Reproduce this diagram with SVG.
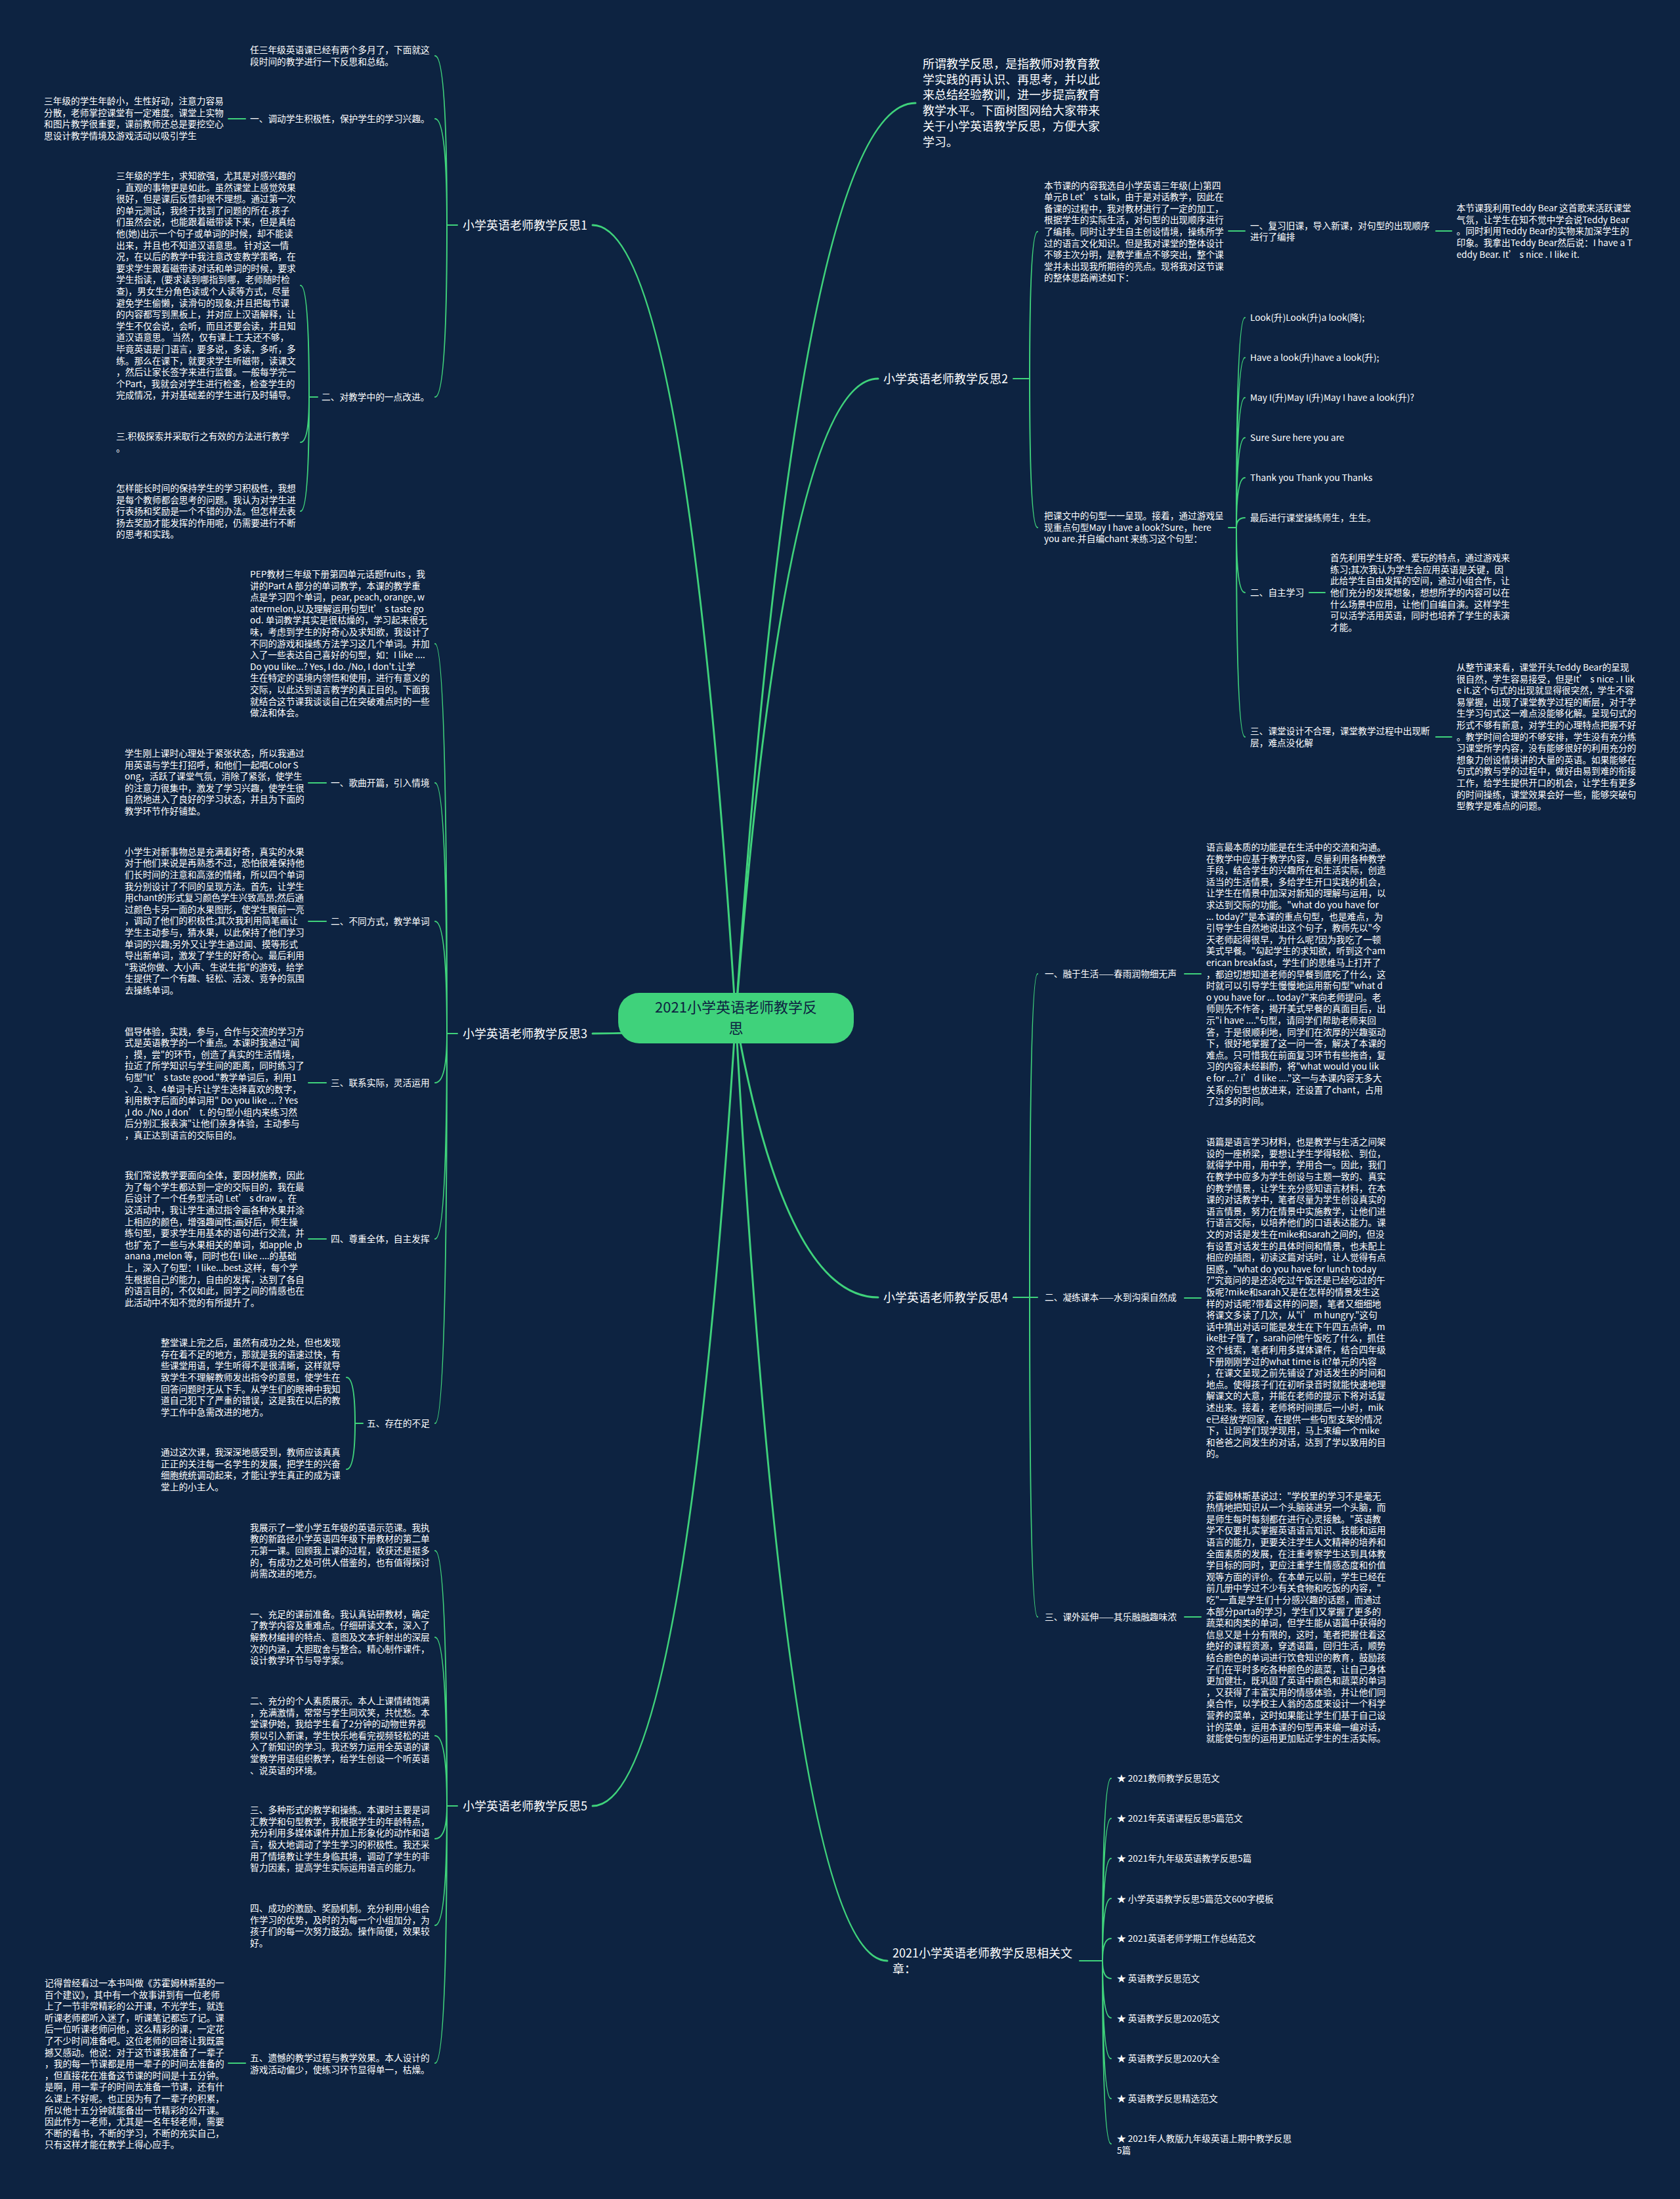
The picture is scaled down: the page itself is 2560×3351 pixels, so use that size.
<svg xmlns="http://www.w3.org/2000/svg" width="2560" height="3351" viewBox="0 0 2560 3351">
<style>
.bg{fill:#0d2341}
.t{font-family:"Noto Sans CJK SC","Noto Sans",sans-serif;font-size:13.7px;fill:#ffffff}
.l1{font-family:"Noto Sans CJK SC","Noto Sans",sans-serif;font-size:18px;fill:#ffffff}
.ct{font-family:"Noto Sans CJK SC","Noto Sans",sans-serif;font-size:22px;fill:#0d2341;text-anchor:middle}
.c{fill:none;stroke:#3fd27b;stroke-width:2;stroke-linecap:round}
.m{fill:none;stroke:#3fd27b;stroke-width:3;stroke-linecap:round}
</style>
<rect class="bg" x="0" y="0" width="2560" height="3351"/>
<g id="connectors">
<path class="m" d="M1121 1551 Q1044.7 343 903 343"/>
<path class="m" d="M1121 1551 Q1044.7 1575 903 1575"/>
<path class="m" d="M1121 1551 Q1044.7 2752 903 2752"/>
<path class="m" d="M1121 1551 Q1217 157 1395 157"/>
<path class="m" d="M1121 1551 Q1197 577 1338 577"/>
<path class="m" d="M1121 1551 Q1197 1977 1338 1977"/>
<path class="m" d="M1121 1551 Q1202 2988 1352 2988"/>
<path class="c" d="M697 343 H681 M681 343 Q681 85 663 85 M681 343 Q681 181 663 181 M681 343 Q681 605 663 605"/>
<path class="c" d="M374 181 H348"/>
<path class="c" d="M484 605 H471 M471 605 Q471 435 458 435 M471 605 Q471 674 458 674 M471 605 Q471 779 458 779"/>
<path class="c" d="M697 1575 H681 M681 1575 Q681 981 663 981 M681 1575 Q681 1193 663 1193 M681 1575 Q681 1404 663 1404 M681 1575 Q681 1650 663 1650 M681 1575 Q681 1888 663 1888 M681 1575 Q681 2169 663 2169"/>
<path class="c" d="M497 1193 H470 M497 1404 H470 M497 1650 H470 M497 1888 H470"/>
<path class="c" d="M553 2169 H541 M541 2169 Q541 2099 528 2099 M541 2169 Q541 2239 528 2239"/>
<path class="c" d="M697 2752 H681 M681 2752 Q681 2363 663 2363 M681 2752 Q681 2495 663 2495 M681 2752 Q681 2645 663 2645 M681 2752 Q681 2802 663 2802 M681 2752 Q681 2934 663 2934 M681 2752 Q681 3144 663 3144"/>
<path class="c" d="M374 3144 H348"/>
<path class="c" d="M1544 577 H1569 M1569 577 Q1569 353 1581 353 M1569 577 Q1569 804 1581 804"/>
<path class="c" d="M1872 352 H1897 M2188 352 H2212"/>
<path class="c" d="M1872 804 H1884 M1884 804 Q1884 484 1897 484 M1884 804 Q1884 545 1897 545 M1884 804 Q1884 606 1897 606 M1884 804 Q1884 667 1897 667 M1884 804 Q1884 728 1897 728 M1884 804 Q1884 789 1897 789 M1884 804 Q1884 903 1897 903 M1884 804 Q1884 1123 1897 1123"/>
<path class="c" d="M1995 903 H2019 M2188 1123 H2212"/>
<path class="c" d="M1544 1977 H1569 M1569 1977 Q1569 1484 1581 1484 M1569 1977 Q1569 1977 1581 1977 M1569 1977 Q1569 2464 1581 2464"/>
<path class="c" d="M1805 1484 H1830 M1805 1978 H1830 M1805 2464 H1830"/>
<path class="c" d="M1645 2988 H1680 M1680 2988 Q1680 2710 1693 2710 M1680 2988 Q1680 2771 1693 2771 M1680 2988 Q1680 2832 1693 2832 M1680 2988 Q1680 2893 1693 2893 M1680 2988 Q1680 2954 1693 2954 M1680 2988 Q1680 3015 1693 3015 M1680 2988 Q1680 3075 1693 3075 M1680 2988 Q1680 3137 1693 3137 M1680 2988 Q1680 3198 1693 3198 M1680 2988 Q1680 3267 1693 3267"/>
</g>
<g id="center">
<rect x="942" y="1513" width="359" height="77" rx="32" fill="#3fd27b"/>
<text class="ct" x="1121.5" y="1543">2021小学英语老师教学反</text>
<text class="ct" x="1121.5" y="1575">思</text>
</g>
<g id="intro"><text class="l1" x="1406" y="103.8"><tspan x="1406">所谓教学反思，是指教师对教育教</tspan><tspan x="1406" dy="23.8">学实践的再认识、再思考，并以此</tspan><tspan x="1406" dy="23.8">来总结经验教训，进一步提高教育</tspan><tspan x="1406" dy="23.8">教学水平。下面树图网给大家带来</tspan><tspan x="1406" dy="23.8">关于小学英语教学反思，方便大家</tspan><tspan x="1406" dy="23.8">学习。</tspan></text></g>
<g id="r1"><text class="l1" x="705" y="349.8">小学英语老师教学反思1</text></g>
<g id="n1a"><text class="t" x="381" y="81"><tspan x="381">任三年级英语课已经有两个多月了，下面就这</tspan><tspan x="381" dy="17.6">段时间的教学进行一下反思和总结。</tspan></text></g>
<g id="n1b"><text class="t" x="381" y="186">一、调动学生积极性，保护学生的学习兴趣。</text></g>
<g id="n1b1"><text class="t" x="67" y="159"><tspan x="67">三年级的学生年龄小，生性好动，注意力容易</tspan><tspan x="67" dy="17.6">分散，老师掌控课堂有一定难度。课堂上实物</tspan><tspan x="67" dy="17.6">和图片教学很重要，课前教师还总是要挖空心</tspan><tspan x="67" dy="17.6">思设计教学情境及游戏活动以吸引学生</tspan></text></g>
<g id="n1c"><text class="t" x="490" y="610">二、对教学中的一点改进。</text></g>
<g id="n1c1"><text class="t" x="177" y="273"><tspan x="177">三年级的学生，求知欲强，尤其是对感兴趣的</tspan><tspan x="177" dy="17.6">，直观的事物更是如此。虽然课堂上感觉效果</tspan><tspan x="177" dy="17.6">很好，但是课后反馈却很不理想。通过第一次</tspan><tspan x="177" dy="17.6">的单元测试，我终于找到了问题的所在.孩子</tspan><tspan x="177" dy="17.6">们虽然会说，也能跟着磁带读下来，但是真给</tspan><tspan x="177" dy="17.6">他(她)出示一个句子或单词的时候，却不能读</tspan><tspan x="177" dy="17.6">出来，并且也不知道汉语意思。 针对这一情</tspan><tspan x="177" dy="17.6">况，在以后的教学中我注意改变教学策略，在</tspan><tspan x="177" dy="17.6">要求学生跟着磁带读对话和单词的时候，要求</tspan><tspan x="177" dy="17.6">学生指读，(要求读到哪指到哪，老师随时检</tspan><tspan x="177" dy="17.6">查)，男女生分角色读或个人读等方式，尽量</tspan><tspan x="177" dy="17.6">避免学生偷懒，读滑句的现象;并且把每节课</tspan><tspan x="177" dy="17.6">的内容都写到黑板上，并对应上汉语解释，让</tspan><tspan x="177" dy="17.6">学生不仅会说，会听，而且还要会读，并且知</tspan><tspan x="177" dy="17.6">道汉语意思。 当然，仅有课上工夫还不够，</tspan><tspan x="177" dy="17.6">毕竟英语是门语言，要多说，多读，多听，多</tspan><tspan x="177" dy="17.6">练。那么在课下，就要求学生听磁带，读课文</tspan><tspan x="177" dy="17.6">，然后让家长签字来进行监督。一般每学完一</tspan><tspan x="177" dy="17.6">个Part，我就会对学生进行检查，检查学生的</tspan><tspan x="177" dy="17.6">完成情况，并对基础差的学生进行及时辅导。</tspan></text></g>
<g id="n1c2"><text class="t" x="177" y="670"><tspan x="177">三.积极探索并采取行之有效的方法进行教学</tspan><tspan x="177" dy="17.6">。</tspan></text></g>
<g id="n1c3"><text class="t" x="177" y="749"><tspan x="177">怎样能长时间的保持学生的学习积极性，我想</tspan><tspan x="177" dy="17.6">是每个教师都会思考的问题。我认为对学生进</tspan><tspan x="177" dy="17.6">行表扬和奖励是一个不错的办法。但怎样去表</tspan><tspan x="177" dy="17.6">扬去奖励才能发挥的作用呢，仍需要进行不断</tspan><tspan x="177" dy="17.6">的思考和实践。</tspan></text></g>
<g id="r3"><text class="l1" x="705" y="1581.8">小学英语老师教学反思3</text></g>
<g id="n3a"><text class="t" x="381" y="880"><tspan x="381">PEP教材三年级下册第四单元话题fruits ，我</tspan><tspan x="381" dy="17.6">讲的Part A 部分的单词教学，本课的教学重</tspan><tspan x="381" dy="17.6">点是学习四个单词，pear, peach, orange, w</tspan><tspan x="381" dy="17.6">atermelon,以及理解运用句型It’ s taste go</tspan><tspan x="381" dy="17.6">od. 单词教学其实是很枯燥的，学习起来很无</tspan><tspan x="381" dy="17.6">味，考虑到学生的好奇心及求知欲，我设计了</tspan><tspan x="381" dy="17.6">不同的游戏和操练方法学习这几个单词。并加</tspan><tspan x="381" dy="17.6">入了一些表达自己喜好的句型，如：I like ....</tspan><tspan x="381" dy="17.6">Do you like...? Yes, I do. /No, I don't.让学</tspan><tspan x="381" dy="17.6">生在特定的语境内领悟和使用，进行有意义的</tspan><tspan x="381" dy="17.6">交际，以此达到语言教学的真正目的。下面我</tspan><tspan x="381" dy="17.6">就结合这节课我谈谈自己在突破难点时的一些</tspan><tspan x="381" dy="17.6">做法和体会。</tspan></text></g>
<g id="n3b"><text class="t" x="504" y="1198">一、歌曲开篇，引入情境</text></g>
<g id="n3b1"><text class="t" x="190" y="1153"><tspan x="190">学生刚上课时心理处于紧张状态，所以我通过</tspan><tspan x="190" dy="17.6">用英语与学生打招呼，和他们一起唱Color S</tspan><tspan x="190" dy="17.6">ong，活跃了课堂气氛，消除了紧张，使学生</tspan><tspan x="190" dy="17.6">的注意力很集中，激发了学习兴趣，使学生很</tspan><tspan x="190" dy="17.6">自然地进入了良好的学习状态，并且为下面的</tspan><tspan x="190" dy="17.6">教学环节作好铺垫。</tspan></text></g>
<g id="n3c"><text class="t" x="504" y="1409">二、不同方式，教学单词</text></g>
<g id="n3c1"><text class="t" x="190" y="1302.7"><tspan x="190">小学生对新事物总是充满着好奇，真实的水果</tspan><tspan x="190" dy="17.6">对于他们来说是再熟悉不过，恐怕很难保持他</tspan><tspan x="190" dy="17.6">们长时间的注意和高涨的情绪，所以四个单词</tspan><tspan x="190" dy="17.6">我分别设计了不同的呈现方法。首先，让学生</tspan><tspan x="190" dy="17.6">用chant的形式复习颜色学生兴致高昂;然后通</tspan><tspan x="190" dy="17.6">过颜色卡另一面的水果图形，使学生眼前一亮</tspan><tspan x="190" dy="17.6">，调动了他们的积极性;其次我利用简笔画让</tspan><tspan x="190" dy="17.6">学生主动参与，猜水果，以此保持了他们学习</tspan><tspan x="190" dy="17.6">单词的兴趣;另外又让学生通过闻、摸等形式</tspan><tspan x="190" dy="17.6">导出新单词，激发了学生的好奇心。最后利用</tspan><tspan x="190" dy="17.6">"我说你做、大小声、生说生指"的游戏，给学</tspan><tspan x="190" dy="17.6">生提供了一个有趣、轻松、活泼、竞争的氛围</tspan><tspan x="190" dy="17.6">去操练单词。</tspan></text></g>
<g id="n3d"><text class="t" x="504" y="1655">三、联系实际，灵活运用</text></g>
<g id="n3d1"><text class="t" x="190" y="1576.6"><tspan x="190">倡导体验，实践，参与，合作与交流的学习方</tspan><tspan x="190" dy="17.6">式是英语教学的一个重点。本课时我通过"闻</tspan><tspan x="190" dy="17.6">，摸，尝"的环节，创造了真实的生活情境，</tspan><tspan x="190" dy="17.6">拉近了所学知识与学生间的距离，同时练习了</tspan><tspan x="190" dy="17.6">句型"It’ s taste good."教学单词后，利用1</tspan><tspan x="190" dy="17.6">、2、3、4单词卡片让学生选择喜欢的数字，</tspan><tspan x="190" dy="17.6">利用数字后面的单词用" Do you like ... ? Yes</tspan><tspan x="190" dy="17.6">,I do ./No ,I don’ t. 的句型小组内来练习然</tspan><tspan x="190" dy="17.6">后分别汇报表演"让他们亲身体验，主动参与</tspan><tspan x="190" dy="17.6">，真正达到语言的交际目的。</tspan></text></g>
<g id="n3e"><text class="t" x="504" y="1893">四、尊重全体，自主发挥</text></g>
<g id="n3e1"><text class="t" x="190" y="1796.2"><tspan x="190">我们常说教学要面向全体，要因材施教，因此</tspan><tspan x="190" dy="17.6">为了每个学生都达到一定的交际目的，我在最</tspan><tspan x="190" dy="17.6">后设计了一个任务型活动 Let’ s draw 。在</tspan><tspan x="190" dy="17.6">这活动中，我让学生通过指令画各种水果并涂</tspan><tspan x="190" dy="17.6">上相应的颜色，增强趣闻性;画好后，师生操</tspan><tspan x="190" dy="17.6">练句型，要求学生用基本的语句进行交流，并</tspan><tspan x="190" dy="17.6">也扩充了一些与水果相关的单词，如apple ,b</tspan><tspan x="190" dy="17.6">anana ,melon 等，同时也在I like ....的基础</tspan><tspan x="190" dy="17.6">上，深入了句型：I like...best.这样，每个学</tspan><tspan x="190" dy="17.6">生根据自己的能力，自由的发挥，达到了各自</tspan><tspan x="190" dy="17.6">的语言目的，不仅如此，同学之间的情感也在</tspan><tspan x="190" dy="17.6">此活动中不知不觉的有所提升了。</tspan></text></g>
<g id="n3f"><text class="t" x="559" y="2174">五、存在的不足</text></g>
<g id="n3f1"><text class="t" x="245" y="2051.2"><tspan x="245">整堂课上完之后，虽然有成功之处，但也发现</tspan><tspan x="245" dy="17.6">存在着不足的地方，那就是我的语速过快，有</tspan><tspan x="245" dy="17.6">些课堂用语，学生听得不是很清晰，这样就导</tspan><tspan x="245" dy="17.6">致学生不理解教师发出指令的意思，使学生在</tspan><tspan x="245" dy="17.6">回答问题时无从下手。从学生们的眼神中我知</tspan><tspan x="245" dy="17.6">道自己犯下了严重的错误，这是我在以后的教</tspan><tspan x="245" dy="17.6">学工作中急需改进的地方。</tspan></text></g>
<g id="n3f2"><text class="t" x="245" y="2218"><tspan x="245">通过这次课，我深深地感受到，教师应该真真</tspan><tspan x="245" dy="17.6">正正的关注每一名学生的发展，把学生的兴奋</tspan><tspan x="245" dy="17.6">细胞统统调动起来，才能让学生真正的成为课</tspan><tspan x="245" dy="17.6">堂上的小主人。</tspan></text></g>
<g id="r5"><text class="l1" x="705" y="2758.8">小学英语老师教学反思5</text></g>
<g id="n5a"><text class="t" x="381" y="2332.7"><tspan x="381">我展示了一堂小学五年级的英语示范课。我执</tspan><tspan x="381" dy="17.6">教的新路径小学英语四年级下册教材的第二单</tspan><tspan x="381" dy="17.6">元第一课。回顾我上课的过程，收获还是挺多</tspan><tspan x="381" dy="17.6">的，有成功之处可供人借鉴的，也有值得探讨</tspan><tspan x="381" dy="17.6">尚需改进的地方。</tspan></text></g>
<g id="n5b"><text class="t" x="381" y="2464.8"><tspan x="381">一、充足的课前准备。我认真钻研教材，确定</tspan><tspan x="381" dy="17.6">了教学内容及重难点。仔细研读文本，深入了</tspan><tspan x="381" dy="17.6">解教材编排的特点、意图及文本折射出的深层</tspan><tspan x="381" dy="17.6">次的内涵，大胆取舍与整合。精心制作课件，</tspan><tspan x="381" dy="17.6">设计教学环节与导学案。</tspan></text></g>
<g id="n5c"><text class="t" x="381" y="2597"><tspan x="381">二、充分的个人素质展示。本人上课情绪饱满</tspan><tspan x="381" dy="17.6">，充满激情，常常与学生同欢笑，共忧愁。本</tspan><tspan x="381" dy="17.6">堂课伊始，我给学生看了2分钟的动物世界视</tspan><tspan x="381" dy="17.6">频以引入新课，学生快乐地看完视频轻松的进</tspan><tspan x="381" dy="17.6">入了新知识的学习。我还努力运用全英语的课</tspan><tspan x="381" dy="17.6">堂教学用语组织教学，给学生创设一个听英语</tspan><tspan x="381" dy="17.6">、说英语的环境。</tspan></text></g>
<g id="n5d"><text class="t" x="381" y="2763.1"><tspan x="381">三、多种形式的教学和操练。本课时主要是词</tspan><tspan x="381" dy="17.6">汇教学和句型教学，我根据学生的年龄特点，</tspan><tspan x="381" dy="17.6">充分利用多媒体课件并加上形象化的动作和语</tspan><tspan x="381" dy="17.6">言，极大地调动了学生学习的积极性。我还采</tspan><tspan x="381" dy="17.6">用了情境教让学生身临其境，调动了学生的非</tspan><tspan x="381" dy="17.6">智力因素，提高学生实际运用语言的能力。</tspan></text></g>
<g id="n5e"><text class="t" x="381" y="2912.9"><tspan x="381">四、成功的激励、奖励机制。充分利用小组合</tspan><tspan x="381" dy="17.6">作学习的优势，及时的为每一个小组加分，为</tspan><tspan x="381" dy="17.6">孩子们的每一次努力鼓劲。操作简便，效果较</tspan><tspan x="381" dy="17.6">好。</tspan></text></g>
<g id="n5f"><text class="t" x="381" y="3140.9"><tspan x="381">五、遗憾的教学过程与教学效果。本人设计的</tspan><tspan x="381" dy="17.6">游戏活动偏少，使练习环节显得单一，枯燥。</tspan></text></g>
<g id="n5f1"><text class="t" x="68" y="3026.9"><tspan x="68">记得曾经看过一本书叫做《苏霍姆林斯基的一</tspan><tspan x="68" dy="17.6">百个建议》，其中有一个故事讲到有一位老师</tspan><tspan x="68" dy="17.6">上了一节非常精彩的公开课，不光学生，就连</tspan><tspan x="68" dy="17.6">听课老师都听入迷了，听课笔记都忘了记。课</tspan><tspan x="68" dy="17.6">后一位听课老师问他，这么精彩的课，一定花</tspan><tspan x="68" dy="17.6">了不少时间准备吧。这位老师的回答让我既震</tspan><tspan x="68" dy="17.6">撼又感动。他说：对于这节课我准备了一辈子</tspan><tspan x="68" dy="17.6">，我的每一节课都是用一辈子的时间去准备的</tspan><tspan x="68" dy="17.6">，但直接花在准备这节课的时间是十五分钟。</tspan><tspan x="68" dy="17.6">是啊，用一辈子的时间去准备一节课，还有什</tspan><tspan x="68" dy="17.6">么课上不好呢。也正因为有了一辈子的积累，</tspan><tspan x="68" dy="17.6">所以他十五分钟就能备出一节精彩的公开课。</tspan><tspan x="68" dy="17.6">因此作为一老师，尤其是一名年轻老师，需要</tspan><tspan x="68" dy="17.6">不断的看书，不断的学习，不断的充实自己，</tspan><tspan x="68" dy="17.6">只有这样才能在教学上得心应手。</tspan></text></g>
<g id="r2"><text class="l1" x="1346" y="583.8">小学英语老师教学反思2</text></g>
<g id="n2a"><text class="t" x="1591" y="287.6"><tspan x="1591">本节课的内容我选自小学英语三年级(上)第四</tspan><tspan x="1591" dy="17.6">单元B Let’ s talk，由于是对话教学，因此在</tspan><tspan x="1591" dy="17.6">备课的过程中，我对教材进行了一定的加工，</tspan><tspan x="1591" dy="17.6">根据学生的实际生活，对句型的出现顺序进行</tspan><tspan x="1591" dy="17.6">了编排。同时让学生自主创设情境，操练所学</tspan><tspan x="1591" dy="17.6">过的语言文化知识。但是我对课堂的整体设计</tspan><tspan x="1591" dy="17.6">不够主次分明，是教学重点不够突出，整个课</tspan><tspan x="1591" dy="17.6">堂并未出现我所期待的亮点。现将我对这节课</tspan><tspan x="1591" dy="17.6">的整体思路阐述如下：</tspan></text></g>
<g id="n2a1"><text class="t" x="1905" y="348.8"><tspan x="1905">一、复习旧课，导入新课，对句型的出现顺序</tspan><tspan x="1905" dy="17.6">进行了编排</tspan></text></g>
<g id="n2a1a"><text class="t" x="2219.5" y="322.2"><tspan x="2219.5">本节课我利用Teddy Bear 这首歌来活跃课堂</tspan><tspan x="2219.5" dy="17.6">气氛，让学生在知不觉中学会说Teddy Bear</tspan><tspan x="2219.5" dy="17.6">。同时利用Teddy Bear的实物来加深学生的</tspan><tspan x="2219.5" dy="17.6">印象。我拿出Teddy Bear然后说：I have a T</tspan><tspan x="2219.5" dy="17.6">eddy Bear. It’ s nice . I like it.</tspan></text></g>
<g id="n2b"><text class="t" x="1591" y="791.2"><tspan x="1591">把课文中的句型一一呈现。接着，通过游戏呈</tspan><tspan x="1591" dy="17.6">现重点句型May I have a look?Sure，here</tspan><tspan x="1591" dy="17.6">you are.并自编chant 来练习这个句型：</tspan></text></g>
<g id="n2b1"><text class="t" x="1905" y="489.2">Look(升)Look(升)a look(降);</text></g>
<g id="n2b2"><text class="t" x="1905" y="550.2">Have a look(升)have a look(升);</text></g>
<g id="n2b3"><text class="t" x="1905" y="611.2">May I(升)May I(升)May I have a look(升)?</text></g>
<g id="n2b4"><text class="t" x="1905" y="672.2">Sure Sure here you are</text></g>
<g id="n2b5"><text class="t" x="1905" y="733.2">Thank you Thank you Thanks</text></g>
<g id="n2b6"><text class="t" x="1905" y="794.2">最后进行课堂操练师生，生生。</text></g>
<g id="n2b7"><text class="t" x="1905" y="907.9">二、自主学习</text></g>
<g id="n2b7a"><text class="t" x="2027" y="855.2"><tspan x="2027">首先利用学生好奇、爱玩的特点，通过游戏来</tspan><tspan x="2027" dy="17.6">练习;其次我认为学生会应用英语是关键，因</tspan><tspan x="2027" dy="17.6">此给学生自由发挥的空间，通过小组合作，让</tspan><tspan x="2027" dy="17.6">他们充分的发挥想象，想想所学的内容可以在</tspan><tspan x="2027" dy="17.6">什么场景中应用，让他们自编自演。这样学生</tspan><tspan x="2027" dy="17.6">可以活学活用英语，同时也培养了学生的表演</tspan><tspan x="2027" dy="17.6">才能。</tspan></text></g>
<g id="n2b8"><text class="t" x="1905" y="1119.2"><tspan x="1905">三、课堂设计不合理，课堂教学过程中出现断</tspan><tspan x="1905" dy="17.6">层，难点没化解</tspan></text></g>
<g id="n2b8a"><text class="t" x="2219.5" y="1021.9"><tspan x="2219.5">从整节课来看，课堂开头Teddy Bear的呈现</tspan><tspan x="2219.5" dy="17.6">很自然，学生容易接受，但是It’ s nice . I lik</tspan><tspan x="2219.5" dy="17.6">e it.这个句式的出现就显得很突然，学生不容</tspan><tspan x="2219.5" dy="17.6">易掌握，出现了课堂教学过程的断层，对于学</tspan><tspan x="2219.5" dy="17.6">生学习句式这一难点没能够化解。呈现句式的</tspan><tspan x="2219.5" dy="17.6">形式不够有新意，对学生的心理特点把握不好</tspan><tspan x="2219.5" dy="17.6">。教学时间合理的不够安排，学生没有充分练</tspan><tspan x="2219.5" dy="17.6">习课堂所学内容，没有能够很好的利用充分的</tspan><tspan x="2219.5" dy="17.6">想象力创设情境讲的大量的英语。如果能够在</tspan><tspan x="2219.5" dy="17.6">句式的教与学的过程中，做好由易到难的衔接</tspan><tspan x="2219.5" dy="17.6">工作，给学生提供开口的机会，让学生有更多</tspan><tspan x="2219.5" dy="17.6">的时间操练，课堂效果会好一些，能够突破句</tspan><tspan x="2219.5" dy="17.6">型教学是难点的问题。</tspan></text></g>
<g id="r4"><text class="l1" x="1346" y="1983.8">小学英语老师教学反思4</text></g>
<g id="n4a"><text class="t" x="1592" y="1489.2">一、融于生活——春雨润物细无声</text></g>
<g id="n4a1"><text class="t" x="1838" y="1295.9"><tspan x="1838">语言最本质的功能是在生活中的交流和沟通。</tspan><tspan x="1838" dy="17.6">在教学中应基于教学内容，尽量利用各种教学</tspan><tspan x="1838" dy="17.6">手段，结合学生的兴趣所在和生活实际，创造</tspan><tspan x="1838" dy="17.6">适当的生活情景，多给学生开口实践的机会，</tspan><tspan x="1838" dy="17.6">让学生在情景中加深对新知的理解与运用，以</tspan><tspan x="1838" dy="17.6">求达到交际的功能。"what do you have for</tspan><tspan x="1838" dy="17.6">... today?"是本课的重点句型，也是难点，为</tspan><tspan x="1838" dy="17.6">引导学生自然地说出这个句子，教师先以"今</tspan><tspan x="1838" dy="17.6">天老师起得很早，为什么呢?因为我吃了一顿</tspan><tspan x="1838" dy="17.6">美式早餐。"勾起学生的求知欲，听到这个am</tspan><tspan x="1838" dy="17.6">erican breakfast，学生们的思维马上打开了</tspan><tspan x="1838" dy="17.6">，都迫切想知道老师的早餐到底吃了什么，这</tspan><tspan x="1838" dy="17.6">时就可以引导学生慢慢地运用新句型"what d</tspan><tspan x="1838" dy="17.6">o you have for ... today?"来向老师提问。老</tspan><tspan x="1838" dy="17.6">师则先不作答，揭开美式早餐的真面目后，出</tspan><tspan x="1838" dy="17.6">示"i have ...."句型，请同学们帮助老师来回</tspan><tspan x="1838" dy="17.6">答，于是很顺利地，同学们在浓厚的兴趣驱动</tspan><tspan x="1838" dy="17.6">下，很好地掌握了这一问一答，解决了本课的</tspan><tspan x="1838" dy="17.6">难点。只可惜我在前面复习环节有些拖沓，复</tspan><tspan x="1838" dy="17.6">习的内容未经斟酌，将"what would you lik</tspan><tspan x="1838" dy="17.6">e for ...? i’ d like ...."这一与本课内容无多大</tspan><tspan x="1838" dy="17.6">关系的句型也放进来，还设置了chant，占用</tspan><tspan x="1838" dy="17.6">了过多的时间。</tspan></text></g>
<g id="n4b"><text class="t" x="1592" y="1982.2">二、凝练课本——水到沟渠自然成</text></g>
<g id="n4b1"><text class="t" x="1838" y="1745.2"><tspan x="1838">语篇是语言学习材料，也是教学与生活之间架</tspan><tspan x="1838" dy="17.6">设的一座桥梁，要想让学生学得轻松、到位，</tspan><tspan x="1838" dy="17.6">就得学中用，用中学，学用合一。因此，我们</tspan><tspan x="1838" dy="17.6">在教学中应多为学生创设与主题一致的、真实</tspan><tspan x="1838" dy="17.6">的教学情景，让学生充分感知语言材料，在本</tspan><tspan x="1838" dy="17.6">课的对话教学中，笔者尽量为学生创设真实的</tspan><tspan x="1838" dy="17.6">语言情景，努力在情景中实施教学，让他们进</tspan><tspan x="1838" dy="17.6">行语言交际，以培养他们的口语表达能力。课</tspan><tspan x="1838" dy="17.6">文的对话是发生在mike和sarah之间的，但没</tspan><tspan x="1838" dy="17.6">有设置对话发生的具体时间和情景，也未配上</tspan><tspan x="1838" dy="17.6">相应的插图，初读这篇对话时，让人觉得有点</tspan><tspan x="1838" dy="17.6">困惑，"what do you have for lunch today</tspan><tspan x="1838" dy="17.6">?"究竟问的是还没吃过午饭还是已经吃过的午</tspan><tspan x="1838" dy="17.6">饭呢?mike和sarah又是在怎样的情景发生这</tspan><tspan x="1838" dy="17.6">样的对话呢?带着这样的问题，笔者又细细地</tspan><tspan x="1838" dy="17.6">将课文多读了几次，从"i’ m hungry."这句</tspan><tspan x="1838" dy="17.6">话中猜出对话可能是发生在下午四五点钟，m</tspan><tspan x="1838" dy="17.6">ike肚子饿了，sarah问他午饭吃了什么，抓住</tspan><tspan x="1838" dy="17.6">这个线索，笔者利用多媒体课件，结合四年级</tspan><tspan x="1838" dy="17.6">下册刚刚学过的what time is it?单元的内容</tspan><tspan x="1838" dy="17.6">，在课文呈现之前先铺设了对话发生的时间和</tspan><tspan x="1838" dy="17.6">地点。使得孩子们在初听录音时就能快速地理</tspan><tspan x="1838" dy="17.6">解课文的大意，并能在老师的提示下将对话复</tspan><tspan x="1838" dy="17.6">述出来。接着，老师将时间挪后一小时，mik</tspan><tspan x="1838" dy="17.6">e已经放学回家，在提供一些句型支架的情况</tspan><tspan x="1838" dy="17.6">下，让同学们现学现用，马上来编一个mike</tspan><tspan x="1838" dy="17.6">和爸爸之间发生的对话，达到了学以致用的目</tspan><tspan x="1838" dy="17.6">的。</tspan></text></g>
<g id="n4c"><text class="t" x="1592" y="2469.2">三、课外延伸——其乐融融趣味浓</text></g>
<g id="n4c1"><text class="t" x="1838" y="2284.5"><tspan x="1838">苏霍姆林斯基说过："学校里的学习不是毫无</tspan><tspan x="1838" dy="17.6">热情地把知识从一个头脑装进另一个头脑，而</tspan><tspan x="1838" dy="17.6">是师生每时每刻都在进行心灵接触。"英语教</tspan><tspan x="1838" dy="17.6">学不仅要扎实掌握英语语言知识、技能和运用</tspan><tspan x="1838" dy="17.6">语言的能力，更要关注学生人文精神的培养和</tspan><tspan x="1838" dy="17.6">全面素质的发展，在注重考察学生达到具体教</tspan><tspan x="1838" dy="17.6">学目标的同时，更应注重学生情感态度和价值</tspan><tspan x="1838" dy="17.6">观等方面的评价。在本单元以前，学生已经在</tspan><tspan x="1838" dy="17.6">前几册中学过不少有关食物和吃饭的内容，"</tspan><tspan x="1838" dy="17.6">吃"一直是学生们十分感兴趣的话题，而通过</tspan><tspan x="1838" dy="17.6">本部分parta的学习，学生们又掌握了更多的</tspan><tspan x="1838" dy="17.6">蔬菜和肉类的单词，但学生能从语篇中获得的</tspan><tspan x="1838" dy="17.6">信息又是十分有限的，这时，笔者把握住着这</tspan><tspan x="1838" dy="17.6">绝好的课程资源，穿透语篇，回归生活，顺势</tspan><tspan x="1838" dy="17.6">结合颜色的单词进行饮食知识的教育，鼓励孩</tspan><tspan x="1838" dy="17.6">子们在平时多吃各种颜色的蔬菜，让自己身体</tspan><tspan x="1838" dy="17.6">更加健壮，既巩固了英语中颜色和蔬菜的单词</tspan><tspan x="1838" dy="17.6">，又获得了丰富实用的情感体验，并让他们同</tspan><tspan x="1838" dy="17.6">桌合作，以学校主人翁的态度来设计一个科学</tspan><tspan x="1838" dy="17.6">营养的菜单，这时如果能让学生们基于自己设</tspan><tspan x="1838" dy="17.6">计的菜单，运用本课的句型再来编一编对话，</tspan><tspan x="1838" dy="17.6">就能使句型的运用更加贴近学生的生活实际。</tspan></text></g>
<g id="rel"><text class="l1" x="1360" y="2982.8"><tspan x="1360">2021小学英语老师教学反思相关文</tspan><tspan x="1360" dy="24">章：</tspan></text></g>
<g id="rel1"><text class="t" x="1702" y="2714.9">★ 2021教师教学反思范文</text></g>
<g id="rel2"><text class="t" x="1702" y="2776.2">★ 2021年英语课程反思5篇范文</text></g>
<g id="rel3"><text class="t" x="1702" y="2837.2">★ 2021年九年级英语教学反思5篇</text></g>
<g id="rel4"><text class="t" x="1702" y="2898.7">★ 小学英语教学反思5篇范文600字模板</text></g>
<g id="rel5"><text class="t" x="1702" y="2959.2">★ 2021英语老师学期工作总结范文</text></g>
<g id="rel6"><text class="t" x="1702" y="3020.2">★ 英语教学反思范文</text></g>
<g id="rel7"><text class="t" x="1702" y="3080.6">★ 英语教学反思2020范文</text></g>
<g id="rel8"><text class="t" x="1702" y="3141.9">★ 英语教学反思2020大全</text></g>
<g id="rel9"><text class="t" x="1702" y="3203.2">★ 英语教学反思精选范文</text></g>
<g id="rel10"><text class="t" x="1702" y="3263.7"><tspan x="1702">★ 2021年人教版九年级英语上期中教学反思</tspan><tspan x="1702" dy="17.8">5篇</tspan></text></g>
</svg>
